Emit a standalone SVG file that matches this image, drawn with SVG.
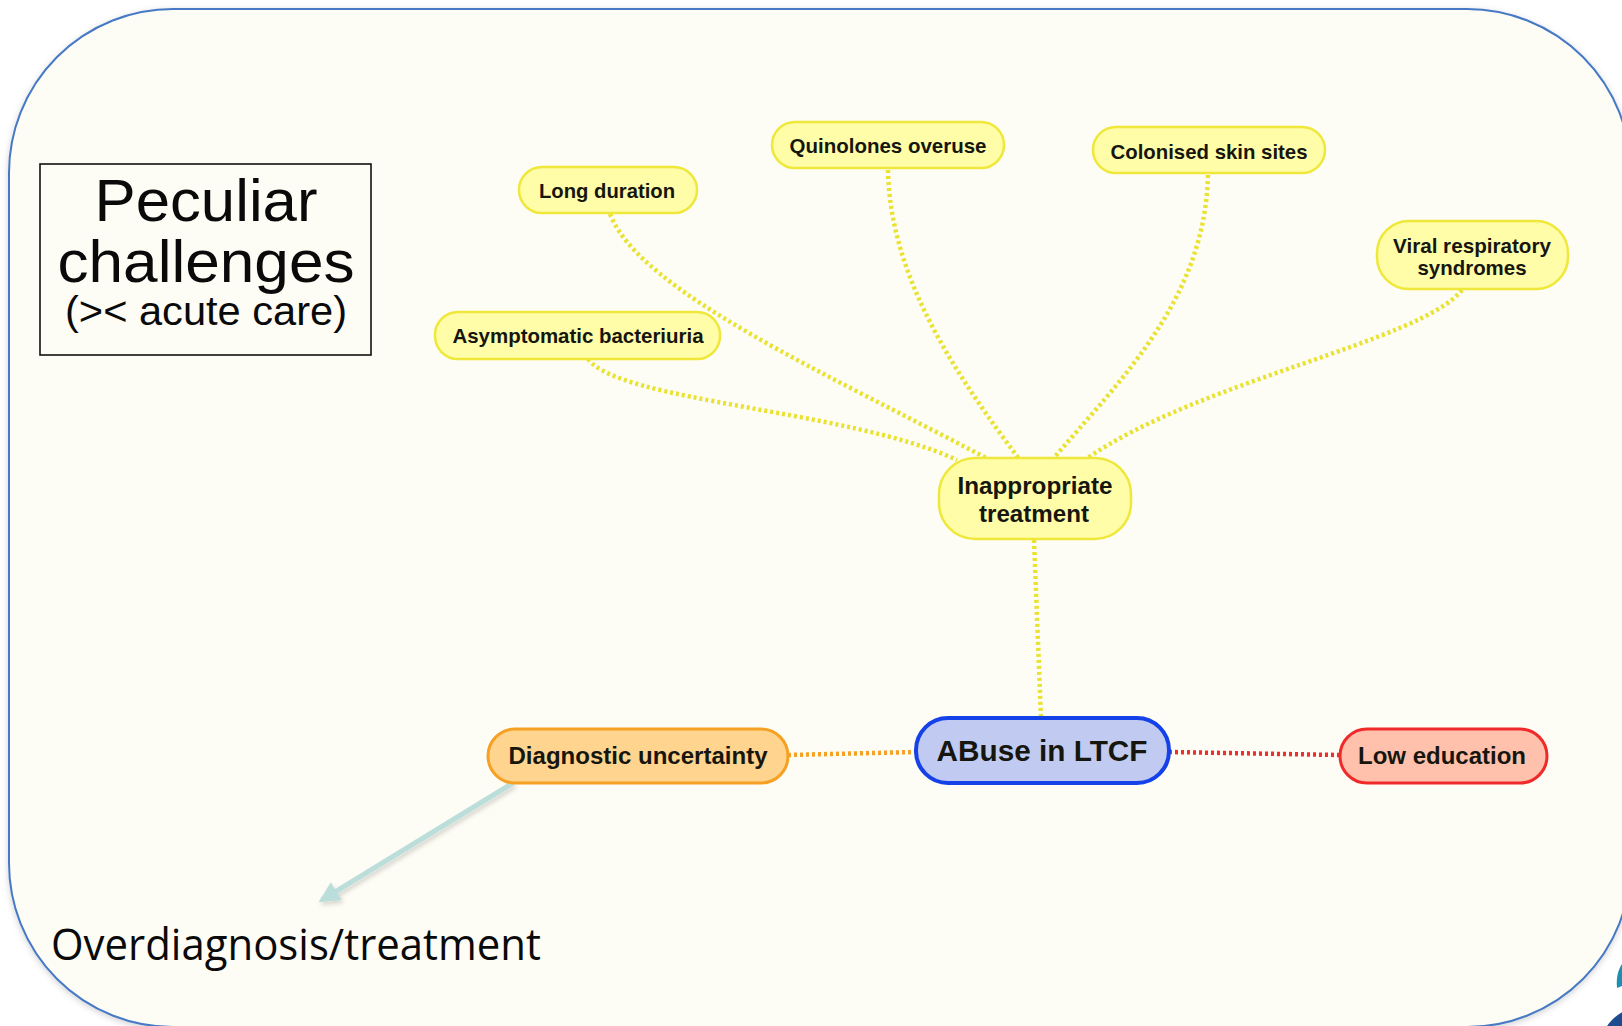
<svg xmlns="http://www.w3.org/2000/svg" width="1622" height="1026" viewBox="0 0 1622 1026">
  <defs>
    <filter id="panelShadow" x="-5%" y="-5%" width="110%" height="110%">
      <feDropShadow dx="0" dy="2" stdDeviation="3" flood-color="#000" flood-opacity="0.18"/>
    </filter>
    <filter id="arrowShadow" x="-10%" y="-10%" width="130%" height="130%">
      <feDropShadow dx="2" dy="3" stdDeviation="2" flood-color="#000" flood-opacity="0.15"/>
    </filter>
    <marker id="tealHead" viewBox="0 0 10 10" refX="8" refY="5" markerWidth="4.2" markerHeight="4.2" orient="auto" markerUnits="strokeWidth">
      <path d="M0,0 L10,5 L0,10 Z" fill="#BCDEDA"/>
    </marker>
    <style>
      .node-y { fill: #FFFDA8; stroke: #EFE83A; stroke-width: 2.5; }
      .node-main { fill: #C1CBF2; stroke: #1541E8; stroke-width: 4; }
      .node-o { fill: #FFD48E; stroke: #F6A024; stroke-width: 3; }
      .node-r { fill: #FFC1AB; stroke: #F02A2A; stroke-width: 3; }
      .lbl { font-family: "Liberation Sans", Arial, sans-serif; font-weight: bold; fill: #16160F; text-anchor: middle; }
      .s21 { font-size: 21px; }
      .s23 { font-size: 23px; }
      .s29 { font-size: 29px; }
      .link { fill: none; stroke-width: 4.5; stroke-dasharray: 3 3; }
      .link-y { stroke: #EAE232; }
      .link-o { stroke: #F6A024; }
      .link-r { stroke: #EE2E2E; }
      .title { font-family: "Liberation Sans", Arial, sans-serif; fill: #0A0A0A; text-anchor: middle; }
    </style>
  </defs>

  <!-- page -->
  <rect x="0" y="0" width="1622" height="1026" fill="#FFFFFF"/>

  <!-- logo fragments at the bottom-right corner -->
  <path d="M1617,988 C1616,978 1618,970 1622,964 L1622,986 Z" fill="#1E8FB0"/>
  <circle cx="1645" cy="1052" r="46" fill="#1D4B8E"/>

  <!-- rounded panel -->
  <rect x="9" y="9" width="1622" height="1018" rx="164" ry="164" fill="#FDFDF5" stroke="#4679C4" stroke-width="2" filter="url(#panelShadow)"/>

  <!-- title box -->
  <g id="title-box">
    <rect x="40" y="164" width="331" height="191" fill="none" stroke="#111111" stroke-width="1.6"/>
    <text class="title" x="206" y="221" font-size="60" textLength="223" lengthAdjust="spacingAndGlyphs">Peculiar</text>
    <text class="title" x="206" y="282" font-size="60" textLength="297" lengthAdjust="spacingAndGlyphs">challenges</text>
    <text class="title" x="206" y="325" font-size="41" textLength="282" lengthAdjust="spacingAndGlyphs">(&gt;&lt; acute care)</text>
  </g>

  <!-- connectors -->
  <g id="connectors">
    <path class="link link-y" d="M610,214 C640,292 830,375 988,459"/>
    <path class="link link-y" d="M588,359 C620,402 850,410 957,460"/>
    <path class="link link-y" d="M888,170 C890,282 962,382 1019,459"/>
    <path class="link link-y" d="M1208,175 C1205,300 1120,380 1053,459"/>
    <path class="link link-y" d="M1462,290 C1420,342 1200,380 1086,459"/>
    <path class="link link-y" d="M1034,540 L1041,718"/>
    <path class="link link-o" d="M788,755 L916,752"/>
    <path class="link link-r" d="M1169,752 L1340,755"/>
    <path d="M513,783 L322,900" fill="none" stroke="#BCDEDA" stroke-width="5" marker-end="url(#tealHead)" filter="url(#arrowShadow)"/>
  </g>

  <!-- nodes -->
  <g id="node-long-duration">
    <rect class="node-y" x="519" y="167" width="178" height="46" rx="23"/>
    <text class="lbl s21" x="607" y="198" textLength="136" lengthAdjust="spacingAndGlyphs">Long duration</text>
  </g>
  <g id="node-quinolones">
    <rect class="node-y" x="772" y="122" width="232" height="46" rx="23"/>
    <text class="lbl s21" x="888" y="153" textLength="197" lengthAdjust="spacingAndGlyphs">Quinolones overuse</text>
  </g>
  <g id="node-colonised">
    <rect class="node-y" x="1093" y="127" width="232" height="46" rx="23"/>
    <text class="lbl s21" x="1209" y="159" textLength="197" lengthAdjust="spacingAndGlyphs">Colonised skin sites</text>
  </g>
  <g id="node-viral">
    <rect class="node-y" x="1377" y="221" width="191" height="68" rx="32"/>
    <text class="lbl s21" x="1472" y="253" textLength="158" lengthAdjust="spacingAndGlyphs">Viral respiratory</text>
    <text class="lbl s21" x="1472" y="275" textLength="109" lengthAdjust="spacingAndGlyphs">syndromes</text>
  </g>
  <g id="node-asymptomatic">
    <rect class="node-y" x="435" y="312" width="285" height="47" rx="23"/>
    <text class="lbl s21" x="578" y="343" textLength="251" lengthAdjust="spacingAndGlyphs">Asymptomatic bacteriuria</text>
  </g>
  <g id="node-inappropriate">
    <rect class="node-y" x="939" y="458" width="192" height="81" rx="36" stroke-width="3"/>
    <text class="lbl s23" x="1035" y="494" textLength="155" lengthAdjust="spacingAndGlyphs">Inappropriate</text>
    <text class="lbl s23" x="1034" y="522" textLength="110" lengthAdjust="spacingAndGlyphs">treatment</text>
  </g>
  <g id="node-abuse">
    <rect class="node-main" x="916" y="718" width="253" height="65" rx="32"/>
    <text class="lbl s29" x="1042" y="761" textLength="211" lengthAdjust="spacingAndGlyphs">ABuse in LTCF</text>
  </g>
  <g id="node-diagnostic">
    <rect class="node-o" x="488" y="729" width="300" height="54" rx="27"/>
    <text class="lbl s23" x="638" y="764" textLength="259" lengthAdjust="spacingAndGlyphs">Diagnostic uncertainty</text>
  </g>
  <g id="node-low-education">
    <rect class="node-r" x="1340" y="729" width="207" height="54" rx="27"/>
    <text class="lbl s23" x="1442" y="764" textLength="168" lengthAdjust="spacingAndGlyphs">Low education</text>
  </g>

  <!-- outcome label -->
  <text x="51" y="960" font-family="'Open Sans', 'Noto Sans', sans-serif" font-size="44" fill="#0A0A0A" textLength="490" lengthAdjust="spacingAndGlyphs">Overdiagnosis/treatment</text>
</svg>
